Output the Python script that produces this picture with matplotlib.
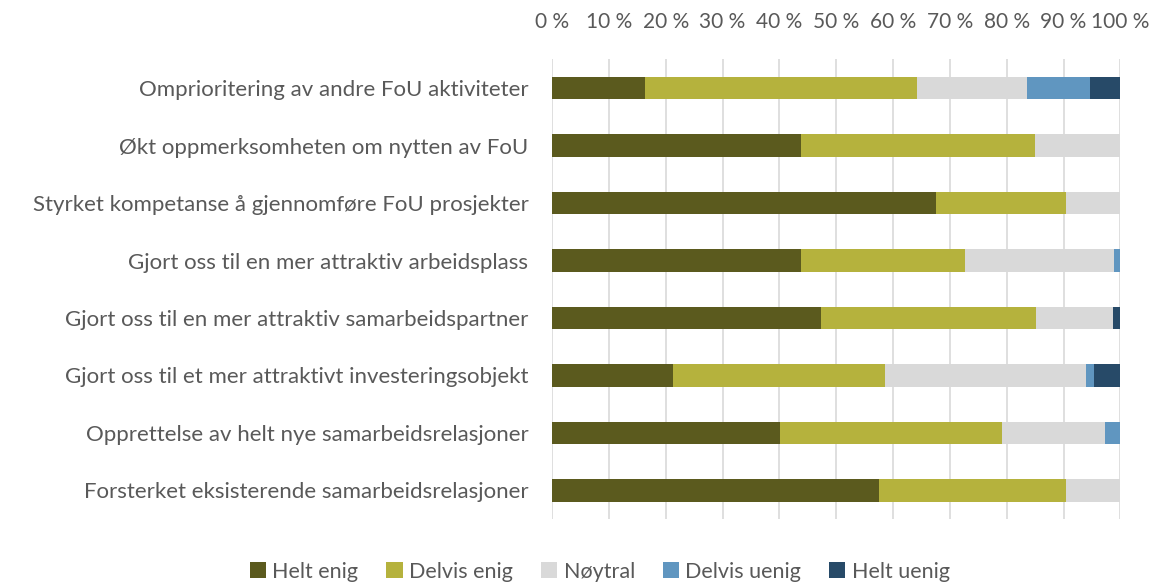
import numpy as np
import matplotlib.pyplot as plt

categories = [
    'Omprioritering av andre FoU aktiviteter',
    'Økt oppmerksomheten om nytten av FoU',
    'Styrket kompetanse å gjennomføre FoU prosjekter',
    'Gjort oss til en mer attraktiv arbeidsplass',
    'Gjort oss til en mer attraktiv samarbeidspartner',
    'Gjort oss til et mer attraktivt investeringsobjekt',
    'Opprettelse av helt nye samarbeidsrelasjoner',
    'Forsterket eksisterende samarbeidsrelasjoner',
]
helt_enig = [16.3, 43.8, 67.5, 43.8, 47.3, 21.3, 40.1, 57.5]
delvis_enig = [48.0, 41.1, 23.0, 28.8, 37.9, 37.2, 39.0, 32.9]
noytral = [19.3, 15.1, 9.5, 26.2, 13.5, 35.4, 18.2, 9.6]
delvis_uenig = [11.1, 0.0, 0.0, 1.2, 0.0, 1.5, 2.7, 0.0]
helt_uenig = [5.3, 0.0, 0.0, 0.0, 1.3, 4.6, 0.0, 0.0]

series = ['Helt enig', 'Delvis enig', 'Nøytral', 'Delvis uenig', 'Helt uenig']
colors = ['#5b5a1e', '#b5b23d', '#d9d9d9', '#6096c0', '#274a68']
ticks = np.arange(0, 101, 10)

plt.rcParams['font.family'] = ['Lato', 'DejaVu Sans']
text_col = '#595959'

fig = plt.figure(figsize=(11.55, 5.82), dpi=100)
ax = fig.add_axes([0.478, 0.108, 0.492, 0.79])

y = np.arange(len(categories))
left = np.zeros(len(categories))
for name, vals, col in zip(series, [helt_enig, delvis_enig, noytral, delvis_uenig, helt_uenig], colors):
    vals = np.array(vals)
    ax.barh(y, vals, left=left, height=0.39, color=col, label=name, zorder=3)
    left = left + vals

ax.set_xlim(0, 100)
ax.set_ylim(len(categories) - 0.5, -0.5)
ax.set_yticks(y)
ax.set_yticklabels(categories, fontsize=16, color=text_col)
ax.set_xticks(ticks)
ax.set_xticklabels([f'{t} %' for t in ticks], fontsize=15, color=text_col)
ax.xaxis.tick_top()
ax.tick_params(axis='x', length=0, pad=20)
ax.tick_params(axis='y', length=0, pad=17)
ax.grid(axis='x', color='#d9d9d9', linewidth=1.2, zorder=0)
for s in ax.spines.values():
    s.set_visible(False)

ax.legend(loc='upper center', bbox_to_anchor=(0.084, -0.05), ncol=5, frameon=False,
          fontsize=15.5, labelcolor=text_col, handlelength=0.75, handleheight=0.75,
          handletextpad=0.3, columnspacing=1.3)

fig.savefig('out.png', dpi=100)
